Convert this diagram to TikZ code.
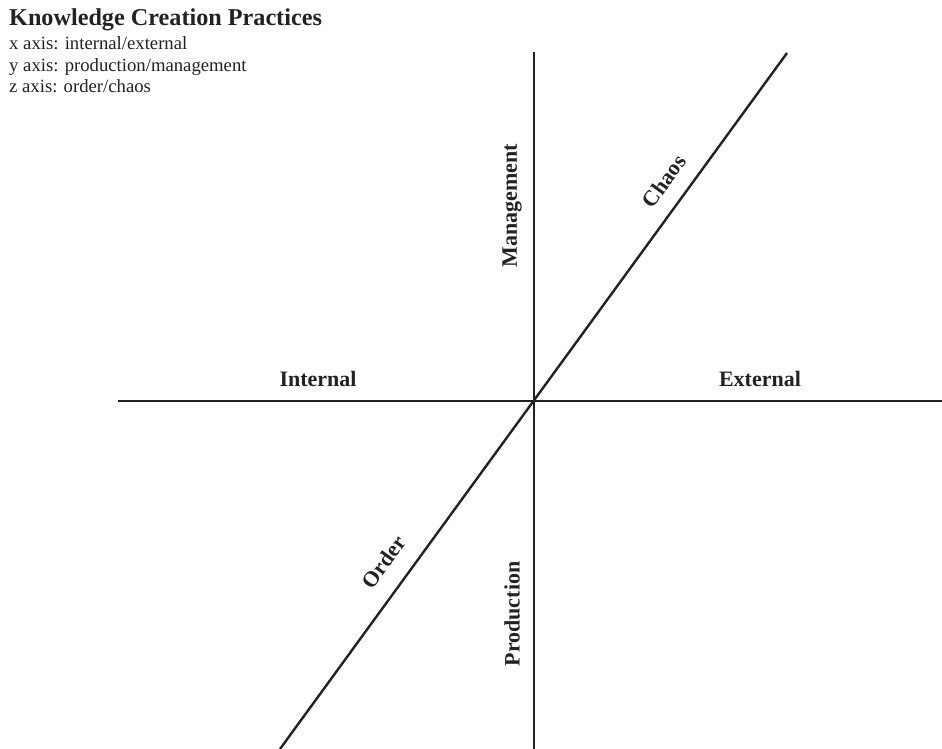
\documentclass[tikz,border=0pt]{standalone}
\usepackage{fontspec}
\setmainfont{Liberation Serif}
\definecolor{ink}{HTML}{222222}
\begin{document}
\begin{tikzpicture}[x=1pt,y=-1pt,
  axisline/.style={line width=2.4pt, draw=ink},
  lab/.style={font=\fontsize{22}{26}\selectfont\bfseries, text=ink, inner sep=0pt},
  sub/.style={font=\fontsize{18.7}{22}\selectfont, text=ink, anchor=base west, inner sep=0pt},
  ttl/.style={font=\fontsize{24.2}{26}\selectfont\bfseries, text=ink, anchor=base west, inner sep=0pt}]
\useasboundingbox (0,0) rectangle (942,749);
\coordinate (O) at (534,401);
\coordinate (top) at (534,52);
\coordinate (bot) at (534,749);
\coordinate (left) at (118,401);
\coordinate (right) at (942,401);
\coordinate (ne) at (787,53);
\coordinate (sw) at (280,749);
\draw[axisline] (left) -- (right);
\draw[axisline] (top) -- (bot);
\draw[axisline] (sw) -- (ne);
\node[lab] (int) at (318,379) {Internal};
\node[lab] (ext) at (760,379) {External};
\node[lab, rotate=90] (man) at (512,206) {Management};
\node[lab, rotate=90] (pro) at (512,614) {Production};
\node[lab, rotate=54] (cha) at (664,181) {Chaos};
\node[lab, rotate=54] (ord) at (384,562) {Order};
\node[ttl] (title) at (9,26) {Knowledge Creation Practices};
\node[sub] (xa) at (9,50) {x axis: internal/external};
\node[sub] (ya) at (9,72) {y axis: production/management};
\node[sub] (za) at (9,93) {z axis: order/chaos};
\end{tikzpicture}
\end{document}
